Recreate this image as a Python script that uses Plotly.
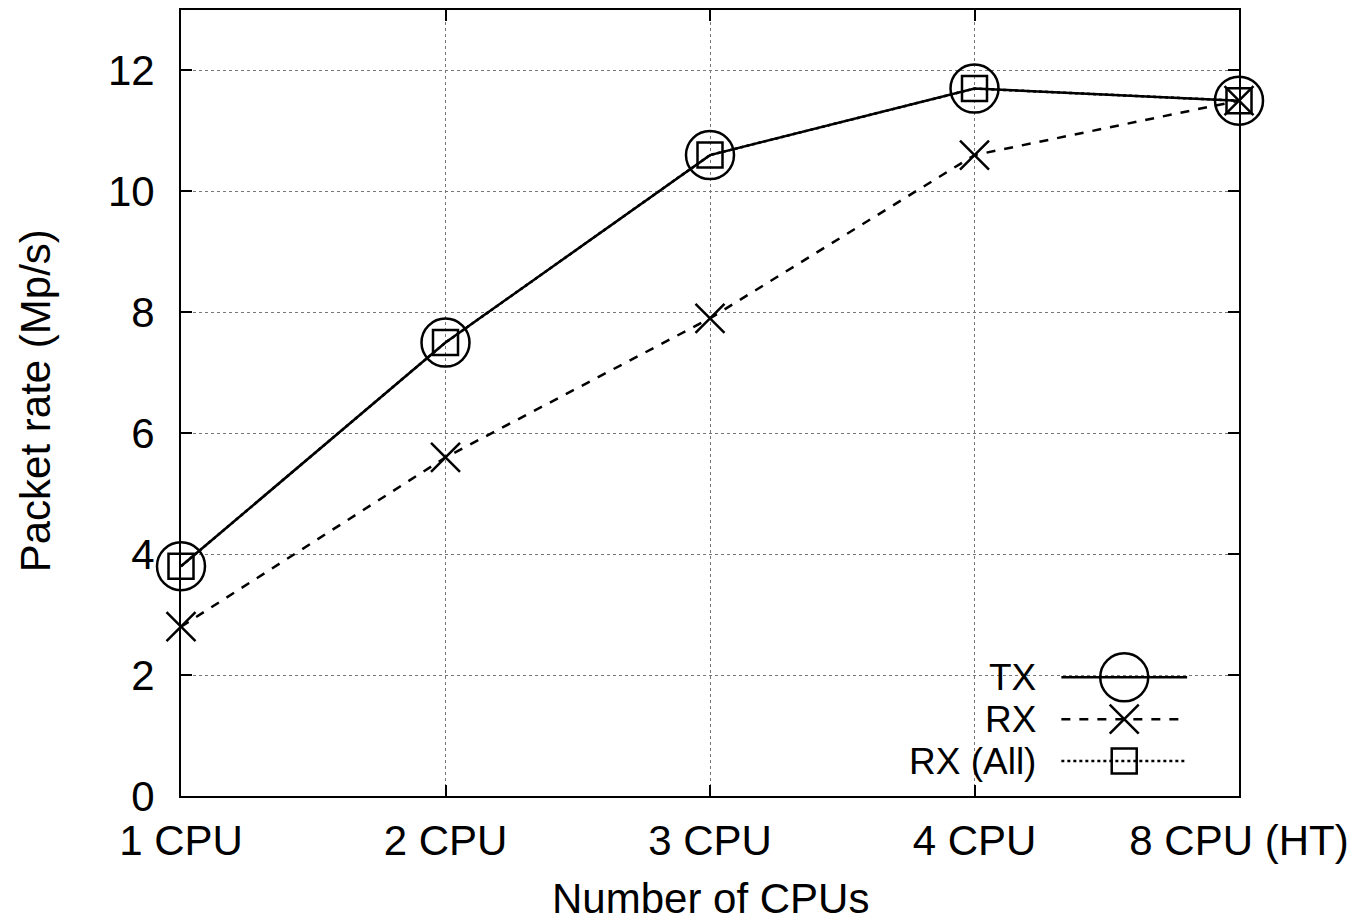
import plotly.graph_objects as go

categories = ["1 CPU", "2 CPU", "3 CPU", "4 CPU", "8 CPU (HT)"]
tx = [3.8, 7.5, 10.6, 11.7, 11.5]
rx = [2.8, 5.6, 7.9, 10.6, 11.5]
rx_all = [3.8, 7.5, 10.6, 11.7, 11.5]
y_ticks = [0, 2, 4, 6, 8, 10, 12]
series_names = ["TX", "RX", "RX (All)"]

FONT = "Liberation Sans, Arial, Helvetica, sans-serif"
W, H = 1357, 923
L, R, T, B = 181, 1241, 8, 796
LW = 2.5

xi = list(range(len(categories)))

fig = go.Figure()
styles = [
    dict(dash="solid", symbol="circle-open", size=48),
    dict(dash="dash", symbol="x-thin-open", size=29),
    dict(dash="dot", symbol="square-open", size=25),
]
for name, vals, st in zip(series_names, [tx, rx, rx_all], styles):
    fig.add_trace(go.Scatter(
        x=xi, y=vals, mode="lines+markers", name=name,
        line=dict(color="black", width=LW, dash=st["dash"]),
        marker=dict(symbol=st["symbol"], size=st["size"], color="black",
                    line=dict(color="black", width=LW)),
        showlegend=False, cliponaxis=False,
    ))

# gnuplot-style key: text right-aligned, sample to the right
def px2x(px):
    return (px - L) / (R - L)

def px2y(py):
    return (B - py) / (B - T)

rows_y = [677, 719, 761]
for name, st, ry in zip(series_names, styles, rows_y):
    fig.add_trace(go.Scatter(
        x=[px2x(1063), px2x(1189)], y=[px2y(ry)] * 2, mode="lines",
        line=dict(color="black", width=LW, dash=st["dash"]),
        xaxis="x2", yaxis="y2", showlegend=False, hoverinfo="skip",
    ))
    fig.add_trace(go.Scatter(
        x=[px2x(1126)], y=[px2y(ry)], mode="markers",
        marker=dict(symbol=st["symbol"], size=st["size"],
                    color="black", line=dict(color="black", width=LW)),
        xaxis="x2", yaxis="y2", showlegend=False, hoverinfo="skip",
    ))
    fig.add_annotation(
        x=px2x(1040), y=px2y(ry), xref="paper", yref="paper",
        text=name, showarrow=False, xanchor="right", yanchor="middle",
        font=dict(family=FONT, size=37, color="black"),
    )

# opaque key box
fig.add_shape(type="rect", xref="paper", yref="paper",
              x0=px2x(830), x1=px2x(1215), y0=px2y(790), y1=px2y(652),
              fillcolor="white", line=dict(width=0), layer="between")

axis_common = dict(
    showline=True, linecolor="black", linewidth=2, mirror="ticks",
    ticks="inside", ticklen=11, tickwidth=2, tickcolor="black",
    showgrid=True, gridcolor="#777777", gridwidth=1, griddash="dot",
    zeroline=False,
    tickfont=dict(family=FONT, size=42, color="black"),
)

fig.update_layout(
    width=W, height=H,
    margin=dict(l=L, r=W - R, t=T, b=H - B),
    plot_bgcolor="white", paper_bgcolor="white",
    xaxis=dict(range=[0, len(categories) - 1], tickmode="array",
               tickvals=xi, ticktext=categories, ticklabelstandoff=7,
               **axis_common),
    yaxis=dict(range=[0, 13], tickmode="array", tickvals=y_ticks,
               ticktext=[str(v) for v in y_ticks], ticklabelstandoff=16,
               **axis_common),
    xaxis2=dict(range=[0, 1], overlaying="x", visible=False, fixedrange=True),
    yaxis2=dict(range=[0, 1], overlaying="y", visible=False, fixedrange=True),
    font=dict(family=FONT, size=42, color="black"),
)

fig.add_annotation(x=0.5, y=px2y(899), xref="paper", yref="paper",
                   text="Number of CPUs", showarrow=False,
                   xanchor="center", yanchor="middle",
                   font=dict(family=FONT, size=42, color="black"))
fig.add_annotation(x=px2x(35), y=px2y(400), xref="paper", yref="paper",
                   text="Packet rate (Mp/s)", showarrow=False, textangle=-90,
                   xanchor="center", yanchor="middle",
                   font=dict(family=FONT, size=42, color="black"))

fig.write_html("out.html",
               config={"displayModeBar": False},
               post_script="document.body.style.margin='0';"
                           "document.body.style.overflow='hidden';")
